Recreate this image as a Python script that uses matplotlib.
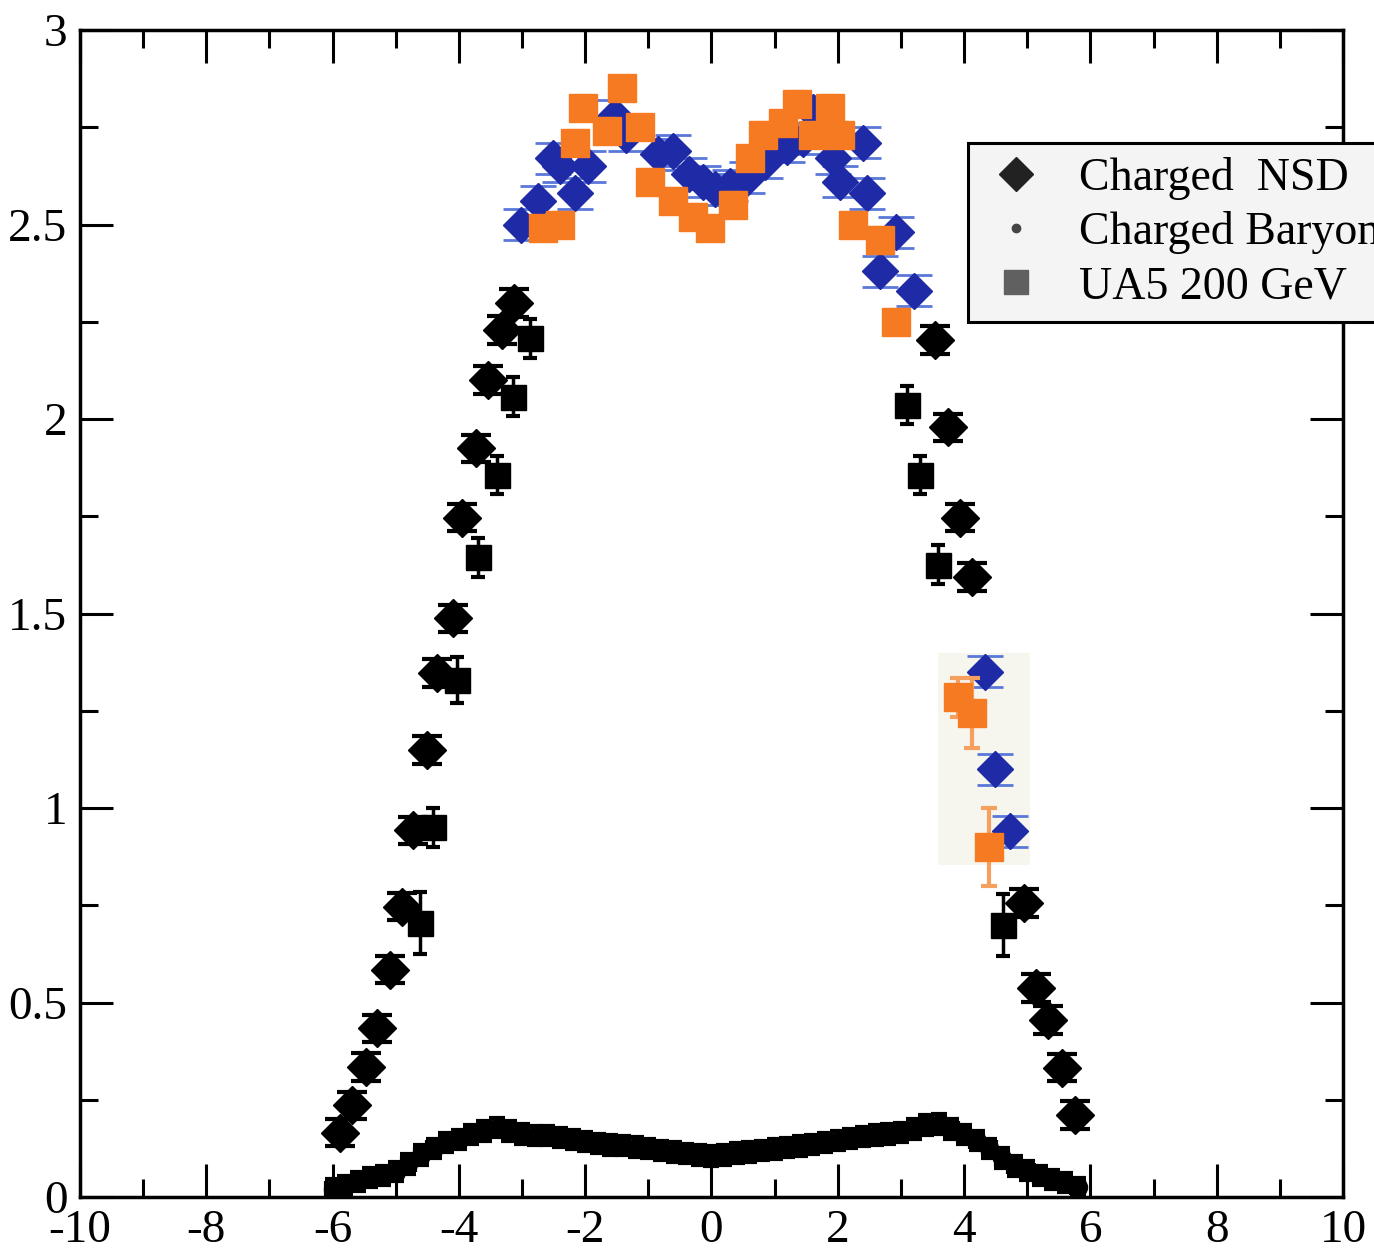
import numpy as np
import matplotlib
matplotlib.use('Agg')
import matplotlib.pyplot as plt
from matplotlib.lines import Line2D
from matplotlib.patches import Rectangle
from matplotlib.ticker import MultipleLocator, FormatStrFormatter

plt.rcParams['font.family'] = ['Liberation Serif', 'DejaVu Serif']
plt.rcParams['axes.unicode_minus'] = False

# charged NSD, black points (scan)
nsd_black_x = [-5.88, -5.69, -5.47, -5.30, -5.09, -4.90, -4.73, -4.50, -4.35, -4.09,
               -3.95, -3.73, -3.54, -3.32, -3.13, 3.54, 3.74, 3.94, 4.13, 4.95,
               5.14, 5.33, 5.55, 5.76]
nsd_black_y = [0.165, 0.236, 0.334, 0.434, 0.584, 0.746, 0.943, 1.149, 1.347, 1.488,
               1.746, 1.925, 2.100, 2.229, 2.298, 2.203, 1.979, 1.746, 1.594, 0.756,
               0.537, 0.455, 0.332, 0.211]

# charged NSD, blue overlay
nsd_blue_x = [-3.01, -2.74, -2.51, -2.40, -2.16, -1.95, -1.53, -1.35, -0.85, -0.61,
              -0.35, -0.13, 0.05, 0.30, 0.56, 0.85, 1.19, 1.45, 1.61, 1.93,
              2.03, 2.40, 2.46, 2.67, 2.93, 3.20, 4.33, 4.49, 4.73]
nsd_blue_y = [2.50, 2.56, 2.67, 2.65, 2.58, 2.65, 2.78, 2.73, 2.68, 2.69,
              2.63, 2.61, 2.59, 2.60, 2.62, 2.66, 2.70, 2.72, 2.79, 2.67,
              2.61, 2.71, 2.58, 2.38, 2.48, 2.33, 1.35, 1.10, 0.94]

# UA5 200 GeV, black points
ua5_black_x = [-4.62, -4.41, -4.03, -3.70, -3.40, -3.14, -2.87, 3.10, 3.30, 3.59, 4.62]
ua5_black_y = [0.704, 0.951, 1.329, 1.645, 1.856, 2.057, 2.208, 2.036, 1.856, 1.625, 0.699]
ua5_black_err = [0.08, 0.05, 0.06, 0.05, 0.05, 0.05, 0.05, 0.05, 0.05, 0.05, 0.08]

# UA5 200 GeV, orange overlay
ua5_orange_x = [-2.67, -2.40, -2.16, -2.03, -1.66, -1.42, -1.13, -0.97, -0.61, -0.29,
                -0.02, 0.34, 0.61, 0.82, 1.13, 1.35, 1.61, 1.87, 2.03, 2.24,
                2.67, 2.92, 3.90, 4.13, 4.39]
ua5_orange_y = [2.49, 2.50, 2.71, 2.80, 2.74, 2.85, 2.75, 2.61, 2.56, 2.52,
                2.49, 2.55, 2.67, 2.73, 2.76, 2.81, 2.73, 2.80, 2.73, 2.50,
                2.46, 2.25, 1.285, 1.244, 0.90]
ua5_orange_err = [0.03] * 22 + [0.05, 0.09, 0.10]

# charged baryon
bar_x = [-6.0, -5.8, -5.6, -5.4, -5.2, -5.0, -4.8, -4.6, -4.4, -4.2,
         -4.0, -3.8, -3.6, -3.4, -3.2, -3.0, -2.8, -2.6, -2.4, -2.2,
         -2.0, -1.8, -1.6, -1.4, -1.2, -1.0, -0.8, -0.6, -0.4, -0.2,
         0.0, 0.2, 0.4, 0.6, 0.8, 1.0, 1.2, 1.4, 1.6, 1.8,
         2.0, 2.2, 2.4, 2.6, 2.8, 3.0, 3.2, 3.4, 3.6, 3.8,
         4.0, 4.2, 4.4, 4.6, 4.8, 5.0, 5.2, 5.4, 5.6, 5.8]
bar_y = [0.020, 0.030, 0.040, 0.050, 0.055, 0.065, 0.085, 0.108, 0.125, 0.140,
         0.148, 0.160, 0.170, 0.178, 0.170, 0.162, 0.158, 0.158, 0.153, 0.148,
         0.142, 0.138, 0.134, 0.132, 0.128, 0.124, 0.120, 0.116, 0.112, 0.108,
         0.105, 0.108, 0.113, 0.116, 0.120, 0.123, 0.127, 0.131, 0.135, 0.140,
         0.145, 0.150, 0.155, 0.159, 0.162, 0.166, 0.175, 0.185, 0.188, 0.175,
         0.160, 0.145, 0.125, 0.100, 0.080, 0.068, 0.055, 0.045, 0.037, 0.025]

legend_labels = ['Charged  NSD', 'Charged Baryon', 'UA5 200 GeV']

fig = plt.figure(figsize=(13.74, 12.5), dpi=100)
ax = fig.add_axes([0.0582, 0.0424, 0.9192, 0.9336])

# light patch behind the pasted points
ax.add_patch(Rectangle((3.59, 0.853), 1.45, 0.545, facecolor='#f6f6ef',
                       edgecolor='none', zorder=0))

ax.errorbar(bar_x, bar_y, yerr=0.025, xerr=0.1, fmt='o', ms=13, color='black',
            ecolor='black', elinewidth=3, capsize=6, capthick=3, zorder=2)

ax.errorbar(nsd_black_x, nsd_black_y, yerr=0.035, fmt='D', ms=19, color='black',
            ecolor='black', elinewidth=2, capsize=11, capthick=3, zorder=3)
ax.errorbar(ua5_black_x, ua5_black_y, yerr=ua5_black_err, fmt='s', ms=18, color='black',
            ecolor='black', elinewidth=2.5, capsize=5, capthick=3, zorder=3)

ax.errorbar(nsd_blue_x, nsd_blue_y, yerr=0.04, fmt='D', ms=18, color='#1e2aa6',
            ecolor='#5a78d8', elinewidth=1.5, capsize=13, capthick=2, zorder=4)
ax.errorbar(ua5_orange_x, ua5_orange_y, yerr=ua5_orange_err, fmt='s', ms=20,
            color='#f57a22', ecolor='#f6a060', elinewidth=3, capsize=6, capthick=3,
            zorder=5)

ax.set_xlim(-10, 10)
ax.set_ylim(0, 3)
ax.xaxis.set_major_locator(MultipleLocator(2))
ax.xaxis.set_minor_locator(MultipleLocator(1))
ax.yaxis.set_major_locator(MultipleLocator(0.5))
ax.yaxis.set_minor_locator(MultipleLocator(0.25))
ax.yaxis.set_major_formatter(FormatStrFormatter('%g'))
ax.tick_params(which='both', direction='in', top=True, right=True, width=2.2,
               labelsize=34)
ax.tick_params(which='major', length=24, pad=9)
ax.tick_params(which='minor', length=13)
for s in ax.spines.values():
    s.set_linewidth(2.5)

handles = [
    Line2D([], [], marker='D', ls='none', color='#222222', ms=17),
    Line2D([], [], marker='o', ls='none', color='#444444', ms=6),
    Line2D([], [], marker='s', ls='none', color='#606060', ms=17),
]
leg = ax.legend(handles, legend_labels, loc='upper left',
                bbox_to_anchor=(0.703, 0.903), fontsize=33, frameon=True,
                fancybox=False, edgecolor='black', facecolor='#f4f4f4',
                framealpha=1, handlelength=1.5, handletextpad=0.63,
                borderpad=0.3, labelspacing=0.25, borderaxespad=0)
leg.get_frame().set_linewidth(2.2)
leg.set_zorder(10)

fig.savefig('out.png', dpi=100)
